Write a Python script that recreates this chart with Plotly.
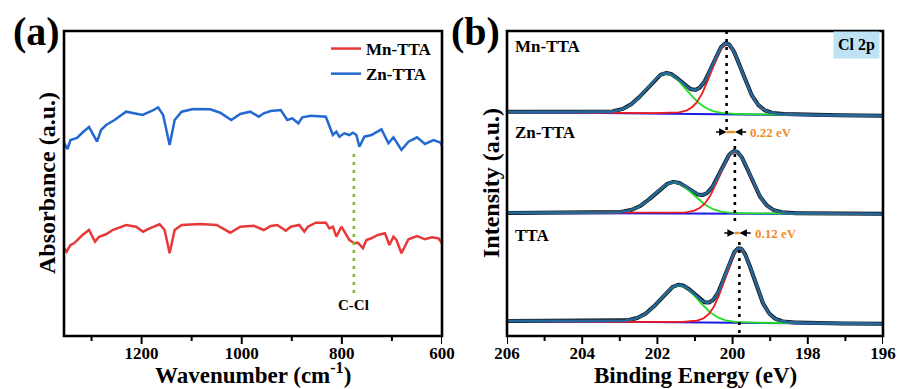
import numpy as np
import plotly.graph_objects as go

# ---------------- FTIR spectra (panel a) ----------------
mn_wavenumber = [1355, 1350, 1342, 1335, 1318, 1305, 1293, 1285, 1271, 1258, 1231, 1211,
                 1197, 1184, 1164, 1154, 1144, 1134, 1120, 1083, 1050, 1038, 1023, 1003,
                 976, 956, 942, 929, 912, 902, 885, 875, 868, 852, 832, 825, 818, 811, 801,
                 795, 785, 775, 768, 758, 751, 741, 728, 714, 705, 697, 691, 681, 667, 650,
                 634, 620, 607, 600]
mn_absorbance = [87.7, 84.3, 91, 92.7, 101, 106, 94.3, 99.3, 101.7, 106, 111, 109.3,
                 104.3, 107.7, 111.7, 106, 82.7, 106, 111, 112, 111, 107.7, 103.3, 109.3,
                 110.3, 106, 110, 111, 105.3, 109.3, 111, 104.3, 109.3, 113.3, 113.3, 107.7,
                 109.3, 99.3, 109.3, 104.3, 96, 92.7, 93.3, 87.7, 96, 97.7, 101, 102.7, 91,
                 99.3, 96, 82.7, 96.7, 100, 96.7, 98.7, 97.7, 92.7]

zn_wavenumber = [1355, 1348, 1342, 1329, 1319, 1305, 1289, 1281, 1271, 1254, 1231, 1198,
                 1180, 1167, 1157, 1144, 1134, 1120, 1097, 1063, 1043, 1021, 1003, 983,
                 966, 956, 942, 922, 909, 899, 887, 879, 862, 832, 818, 811, 805, 795, 785,
                 778, 771, 765, 755, 741, 721, 707, 697, 681, 667, 650, 634, 617, 603, 600]
zn_absorbance = [193, 187, 196, 198, 203, 209, 194.3, 206, 211, 216, 224.3, 221,
                 225, 228.7, 221, 191, 216, 224.3, 227, 226.7, 223.3, 216, 222, 224.3,
                 219.3, 222.7, 225, 226, 216, 217.7, 212.7, 218.7, 220.3, 219.3, 201, 204.3,
                 199.3, 202.7, 201, 203.3, 201, 189.3, 199.3, 201, 206.7, 192.7, 198.7, 186,
                 194.3, 198.7, 192, 196, 193.3, 190]

ftir_major = [1200, 1000, 800, 600]
ftir_minor = [1300, 1100, 900, 700]
ccl_position = 776
ccl_span = [43, 183]

# ---------------- Cl 2p XPS fits (panel b) ----------------
xps_samples = ["Mn-TTA", "Zn-TTA", "TTA"]
xps_main_center = [200.16, 199.94, 199.82]      # Cl 2p3/2
xps_main_height = [70, 62, 74]
xps_main_fwhm = [0.97, 0.97, 0.90]
xps_sub_center = [201.76, 201.56, 201.42]       # Cl 2p1/2
xps_sub_height = [40, 31, 37]
xps_sub_fwhm = [1.25, 1.22, 1.20]
xps_base_high = [224, 123, 15]                  # baseline at 206 eV
xps_base_low = [220, 122, 12]                   # baseline at 196 eV
xps_shift_text = ["0.22 eV", "0.12 eV"]
xps_major = [206, 204, 202, 200, 198, 196]
xps_minor = [205, 203, 201, 199, 197]

FONT = "Liberation Serif"
RED = "#e8393a"
BLUE = "#2468d2"

X_A = [64 / 900, 442 / 900]
X_B = [507 / 900, 883 / 900]
Y_PLOT = [53 / 389, 358 / 389]
Y_TICKS = [44 / 389, 53 / 389]      # strip just below the frames for tick marks


def pseudo_voigt(e, c, h, w, eta=0.1):
    g = np.exp(-4 * np.log(2) * (e - c) ** 2 / w ** 2)
    lor = 1.0 / (1 + 4 * (e - c) ** 2 / w ** 2)
    return h * ((1 - eta) * g + eta * lor)


def tick_segments(major, minor, top=9.0, major_len=8.0, minor_len=5.0):
    xs, ys = [], []
    for vals, ln in [(major, major_len), (minor, minor_len)]:
        for v in vals:
            xs += [v, v, None]
            ys += [top, top - ln, None]
    return xs, ys


fig = go.Figure()

fig.add_trace(go.Scatter(x=mn_wavenumber, y=mn_absorbance, mode="lines", name="Mn-TTA",
                         line=dict(color=RED, width=2.5), xaxis="x", yaxis="y"))
fig.add_trace(go.Scatter(x=zn_wavenumber, y=zn_absorbance, mode="lines", name="Zn-TTA",
                         line=dict(color=BLUE, width=2.5), xaxis="x", yaxis="y"))
fig.add_trace(go.Scatter(x=[ccl_position, ccl_position], y=ccl_span, mode="lines",
                         showlegend=False, line=dict(color="#7fb52a", width=2.5, dash="3px,5px"),
                         xaxis="x", yaxis="y"))

energy = np.linspace(206, 196, 501)
for i in range(len(xps_samples)):
    base = xps_base_high[i] + (xps_base_low[i] - xps_base_high[i]) * (206 - energy) / 10
    main = pseudo_voigt(energy, xps_main_center[i], xps_main_height[i], xps_main_fwhm[i])
    sub = pseudo_voigt(energy, xps_sub_center[i], xps_sub_height[i], xps_sub_fwhm[i])
    env = base + main + sub
    common = dict(mode="lines", showlegend=False, xaxis="x2", yaxis="y2", hoverinfo="skip")
    fig.add_trace(go.Scatter(x=energy, y=env, line=dict(color="#111111", width=4), **common))
    fig.add_trace(go.Scatter(x=energy, y=base, line=dict(color="#1a1ae6", width=2), **common))
    fig.add_trace(go.Scatter(x=energy, y=base + sub, line=dict(color="#22dd22", width=1.8), **common))
    fig.add_trace(go.Scatter(x=energy, y=base + main, line=dict(color="#ee1c1c", width=1.8), **common))
    fig.add_trace(go.Scatter(x=energy, y=env, line=dict(color="#24679a", width=2.6), **common))

# outward tick marks, drawn in thin strips that share the x scales of the panels
for xr, yr, major, minor in [("x3", "y3", ftir_major, ftir_minor), ("x4", "y4", xps_major, xps_minor)]:
    tx, ty = tick_segments(major, minor)
    fig.add_trace(go.Scatter(x=tx, y=ty, mode="lines", showlegend=False, hoverinfo="skip",
                             line=dict(color="black", width=2), xaxis=xr, yaxis=yr))

# dotted peak-position guides
guide_spans = [(206, 306), (115, 197), (3, 97)]
for i, (y0, y1) in enumerate(guide_spans):
    fig.add_shape(type="line", xref="x2", yref="y2", x0=xps_main_center[i], x1=xps_main_center[i],
                  y0=y0, y1=y1, line=dict(color="black", width=2.6, dash="3px,5px"))

# shift markers between neighbouring guides
shift_y = [204, 103]
for k in range(2):
    left_c = xps_main_center[k]
    right_c = xps_main_center[k + 1]
    yy = shift_y[k]
    fig.add_shape(type="line", xref="x2", yref="y2", x0=left_c, x1=right_c, y0=yy, y1=yy,
                  line=dict(color="#f08c2a", width=2.5))
    fig.add_annotation(xref="x2", yref="y2", x=left_c, y=yy, axref="x2", ayref="y2",
                       ax=left_c + 0.32, ay=yy, showarrow=True, arrowhead=2, arrowsize=1,
                       arrowwidth=1.5, arrowcolor="black", text="")
    fig.add_annotation(xref="x2", yref="y2", x=right_c, y=yy, axref="x2", ayref="y2",
                       ax=right_c - 0.34, ay=yy, showarrow=True, arrowhead=2, arrowsize=1,
                       arrowwidth=1.5, arrowcolor="black", text="")
    fig.add_annotation(xref="x2", yref="y2", x=right_c - 0.36, y=yy, xanchor="left",
                       showarrow=False, text="<b>%s</b>" % xps_shift_text[k],
                       font=dict(family=FONT, size=13, color="#f08c2a"))

# plot frames
for xr, yr in [("x", "y"), ("x2", "y2")]:
    fig.add_shape(type="rect", xref=xr + " domain", yref=yr + " domain", x0=0, x1=1, y0=0, y1=1,
                  line=dict(color="black", width=2.6), fillcolor="rgba(0,0,0,0)", layer="above")

axis_base = dict(showline=False, showgrid=False, zeroline=False, automargin=False)
xlabel = dict(tickmode="array", ticks="", ticklabelstandoff=5,
              tickfont=dict(family=FONT, size=17, color="black", weight="bold"))
hidden = dict(visible=False, showgrid=False, zeroline=False, automargin=False, fixedrange=True)

fig.update_layout(
    width=900, height=389,
    margin=dict(l=0, r=0, t=0, b=0, autoexpand=False),
    paper_bgcolor="white", plot_bgcolor="white",
    xaxis=dict(domain=X_A, range=[1355, 600], tickvals=ftir_major, anchor="y",
               **axis_base, **xlabel),
    yaxis=dict(domain=Y_PLOT, range=[0, 305], showticklabels=False, ticks="", anchor="x",
               **axis_base),
    xaxis2=dict(domain=X_B, range=[206, 196], tickvals=xps_major, anchor="y2",
                **axis_base, **xlabel),
    yaxis2=dict(domain=Y_PLOT, range=[0, 305], showticklabels=False, ticks="", anchor="x2",
                **axis_base),
    xaxis3=dict(domain=X_A, range=[1355, 600], anchor="y3", **hidden),
    yaxis3=dict(domain=Y_TICKS, range=[0, 9], anchor="x3", **hidden),
    xaxis4=dict(domain=X_B, range=[206, 196], anchor="y4", **hidden),
    yaxis4=dict(domain=Y_TICKS, range=[0, 9], anchor="x4", **hidden),
    legend=dict(x=326 / 900, y=1 - 31 / 389, xanchor="left", yanchor="top",
                bgcolor="rgba(0,0,0,0)", tracegroupgap=1,
                font=dict(family=FONT, size=17, color="black", weight="bold")),
    showlegend=True,
)

texts = [
    dict(x=36 / 900, y=1 - 31 / 389, text="<b>(a)</b>", size=40, ya="middle"),
    dict(x=476 / 900, y=1 - 31 / 389, text="<b>(b)</b>", size=40, ya="middle"),
    dict(x=253 / 900, y=0.0, text="<b>Wavenumber (cm<sup>-1</sup>)</b>", size=23, ya="bottom"),
    dict(x=695 / 900, y=0.0, text="<b>Binding Energy (eV)</b>", size=23, ya="bottom"),
]
for t in texts:
    fig.add_annotation(xref="paper", yref="paper", x=t["x"], y=t["y"], text=t["text"],
                       showarrow=False, xanchor="center", yanchor=t["ya"], borderpad=0,
                       font=dict(family=FONT, size=t["size"], color="black"))
for xc, label in [(47, "Absorbance (a.u.)"), (491, "Intensity (a.u.)")]:
    fig.add_annotation(xref="paper", yref="paper", x=xc / 900, y=1 - 183 / 389,
                       xanchor="center", yanchor="middle",
                       text="<b>%s</b>" % label, textangle=-90, showarrow=False,
                       font=dict(family=FONT, size=24, color="black"))
fig.add_annotation(xref="x", yref="y", x=ccl_position, y=31, text="<b>C-Cl</b>",
                   showarrow=False, font=dict(family=FONT, size=15, color="black"))

label_y = [290, 204, 101]
for i, name in enumerate(xps_samples):
    fig.add_annotation(xref="paper", yref="y2", x=513 / 900, y=label_y[i], xanchor="left",
                       text="<b>%s</b>" % name, showarrow=False,
                       font=dict(family=FONT, size=17, color="black"))
fig.add_annotation(xref="paper", yref="paper", x=880 / 900, y=1 - 45 / 389, xanchor="right",
                   yanchor="middle", text="<b>Cl 2p</b>", showarrow=False, bgcolor="#bfe2f5",
                   borderpad=4, font=dict(family=FONT, size=16, color="black"))

fig.write_html("out.html")
